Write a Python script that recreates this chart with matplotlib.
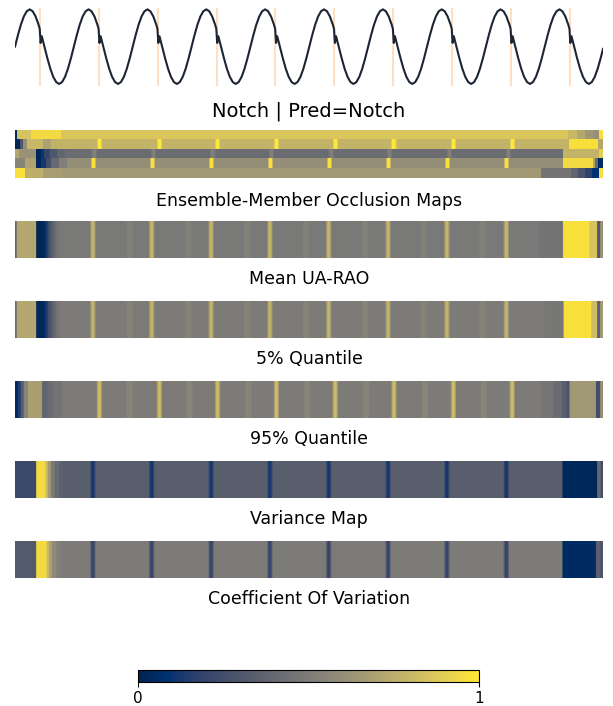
import numpy as np
import matplotlib
matplotlib.use("Agg")
import matplotlib.pyplot as plt
from matplotlib.cm import ScalarMappable
from matplotlib.colors import Normalize

# ---------------------------------------------------------------- data
N = 1000                      # time steps in the series
period = 100                  # samples per cycle
n_cycles = 10

# one cycle of the input waveform (position within cycle, amplitude)
cycle_pos = [0, 5, 10, 15, 20, 25, 30, 35, 40, 42, 43.5, 45.5, 47, 50,
             55, 60, 65, 70, 75, 80, 85, 90, 95]
cycle_val = [0.0, 0.31, 0.59, 0.81, 0.95, 1.0, 0.95, 0.81, 0.59, 0.48, 0.10, 0.28, 0.19, 0.0,
             -0.31, -0.59, -0.81, -0.95, -1.0, -0.95, -0.81, -0.59, -0.31]
end_pos, end_val = 999, -0.06

# notch locations in the input
notch_pos = [42.5, 142.5, 242.5, 342.5, 442.5, 542.5, 642.5, 742.5, 842.5, 942.5]

title_text = "Notch | Pred=Notch"

# relevance maps: (segment start, value) pairs, plus narrow marks
mean_segments = [(0, 0.40), (3, 0.72), (36, 0.02), (48, 0.05), (52, 0.14), (56, 0.24),
                 (60, 0.33), (65, 0.41), (70, 0.46), (75, 0.49), (892, 0.46), (932, 0.97),
                 (977, 0.85), (990, 0.30), (995, 0.62)]
mean_marks = [132, 232, 333, 433, 533, 634, 734, 835]
mean_bands = [195, 295, 395, 495, 595, 695, 795]

q05_segments = [(0, 0.42), (3, 0.72), (36, 0.03), (48, 0.06), (52, 0.15), (56, 0.25),
                (60, 0.33), (65, 0.41), (70, 0.47), (76, 0.50), (900, 0.48), (933, 0.97),
                (980, 0.82), (990, 0.35), (995, 0.65)]
q05_marks = [132, 232, 333, 433, 533, 634, 734, 835]
q05_bands = [195, 295, 395, 495, 595, 695, 795]

q95_segments = [(0, 0.05), (5, 0.15), (10, 0.35), (15, 0.55), (22, 0.68), (46, 0.38),
                (55, 0.42), (65, 0.46), (80, 0.50), (895, 0.47), (915, 0.42),
                (930, 0.35), (938, 0.28), (943, 0.65), (988, 0.25), (995, 0.60)]
q95_marks = [143, 245, 344, 444, 544, 644, 745, 845]
q95_bands = [195, 297, 397, 497, 597, 697, 797]

var_segments = [(0, 0.22), (36, 0.95), (52, 0.80), (56, 0.65), (61, 0.50), (67, 0.42),
                (75, 0.36), (82, 0.34), (931, 0.03), (990, 0.40), (996, 0.25)]
var_marks = [132, 232, 333, 433, 533, 634, 734, 835]

cov_segments = [(0, 0.32), (36, 0.95), (54, 0.80), (58, 0.68), (63, 0.58), (70, 0.52),
                (78, 0.50), (931, 0.05), (988, 0.35), (995, 0.30)]
cov_marks = [132, 232, 333, 433, 533, 634, 734, 835]

# ensemble members (top to bottom)
member_segments = [
    [(0, 0.05), (3, 0.85), (28, 0.95), (79, 0.86), (940, 0.80), (955, 0.72),
     (970, 0.64), (985, 0.60), (993, 0.97)],
    [(0, 0.03), (8, 0.30), (14, 0.60), (20, 0.80), (48, 0.70), (62, 0.78),
     (943, 0.97), (992, 0.72)],
    [(0, 0.72), (6, 0.62), (36, 0.03), (44, 0.10), (50, 0.20), (60, 0.30),
     (72, 0.38), (85, 0.42), (932, 0.78), (993, 0.90)],
    [(0, 0.55), (17, 0.70), (36, 0.03), (45, 0.12), (52, 0.25), (62, 0.40),
     (75, 0.52), (88, 0.60), (932, 0.95), (983, 0.70), (987, 0.40), (991, 0.05)],
    [(0, 0.97), (17, 0.76), (48, 0.68), (80, 0.65), (895, 0.46), (945, 0.38),
     (958, 0.28), (970, 0.18), (982, 0.08), (993, 0.97)],
]
member_marks = [
    [],
    [143, 245, 344, 444, 544, 644, 745, 845],
    [134, 235, 336, 436, 537, 637, 738, 839],
    [133, 233, 334, 434, 534, 635, 735, 835],
    [],
]
member_mark_values = [None, 1.0, 0.52, 0.97, None]

map_labels = ["Mean UA-RAO", "5% Quantile", "95% Quantile", "Variance Map",
              "Coefficient Of Variation"]


# ---------------------------------------------------------------- helpers
def build_row(segments, marks=(), mark_value=None, bands=(), band_value=None):
    row = np.empty(N)
    ends = [s for s, _ in segments[1:]] + [N]
    for (s0, v), s1 in zip(segments, ends):
        row[int(s0):int(s1)] = v
    for b in bands:
        row[b - 5:b + 5] = band_value
    for c in marks:
        base = row[c - 5]
        row[c - 4:c + 5] = (base + mark_value) / 2
        row[c - 2:c + 3] = mark_value
    return row


def style_axes(ax):
    ax.set_xticks([])
    ax.set_yticks([])
    for sp in ax.spines.values():
        sp.set_visible(False)


maps = [
    build_row(mean_segments, mean_marks, 0.79, mean_bands, 0.53),
    build_row(q05_segments, q05_marks, 0.78, q05_bands, 0.54),
    build_row(q95_segments, q95_marks, 0.82, q95_bands, 0.55),
    build_row(var_segments, var_marks, 0.12),
    build_row(cov_segments, cov_marks, 0.20),
]
members = np.vstack([build_row(seg, mk, mv) for seg, mk, mv in
                     zip(member_segments, member_marks, member_mark_values)])

# ---------------------------------------------------------------- figure
W, H = 613, 706
fig = plt.figure(figsize=(W / 100, H / 100), dpi=100)


def px_axes(x0, y0, x1, y1):
    return fig.add_axes([x0 / W, 1 - y1 / H, (x1 - x0) / W, (y1 - y0) / H])


cmap = "cividis"

# input signal
ax_sig = px_axes(15, 7.5, 603, 85.8)
t = np.concatenate([k * period + np.array(cycle_pos) for k in range(n_cycles)] + [[end_pos]])
y = np.concatenate([np.array(cycle_val) for _ in range(n_cycles)] + [[end_val]])
for p in notch_pos:
    ax_sig.axvline(p, color="tab:orange", alpha=0.25, lw=1.5)
ax_sig.plot(t, y, color="#1c2534", lw=1.5)
ax_sig.set_xlim(0, end_pos)
ax_sig.set_ylim(-1.05, 1.05)
style_axes(ax_sig)
ax_sig.set_xlabel(title_text, fontsize=14, labelpad=11.3)

# ensemble members
ax_ens = px_axes(15, 130, 603, 178.3)
ax_ens.imshow(members, aspect="auto", cmap=cmap, vmin=0, vmax=1,
              interpolation="nearest")
style_axes(ax_ens)
ax_ens.set_xlabel("Ensemble-Member Occlusion Maps", fontsize=12.5, labelpad=10)

# summary maps
for i, (row, label) in enumerate(zip(maps, map_labels)):
    top = 221 + 80 * i
    ax = px_axes(15, top, 603, top + 37.3)
    ax.imshow(row[None, :], aspect="auto", cmap=cmap, vmin=0, vmax=1)
    style_axes(ax)
    ax.set_xlabel(label, fontsize=12.5, labelpad=8.5)

# colour bar
cax = px_axes(138.3, 670, 479.3, 681.7)
sm = ScalarMappable(norm=Normalize(0, 1), cmap=cmap)
cb = fig.colorbar(sm, cax=cax, orientation="horizontal", ticks=[0, 1])
cb.ax.tick_params(labelsize=11)

fig.savefig("out.png", dpi=100)
